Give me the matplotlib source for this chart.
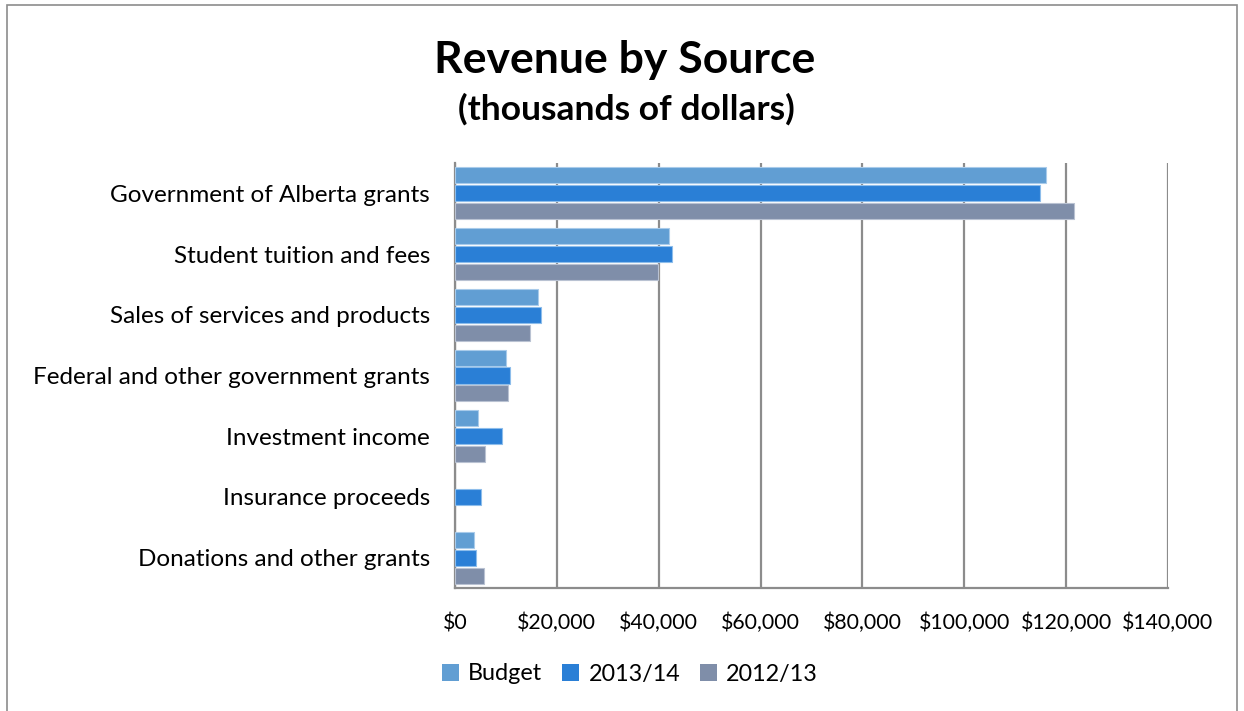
import matplotlib
matplotlib.use("Agg")
import matplotlib.pyplot as plt
from matplotlib.patches import Rectangle
from matplotlib.ticker import FuncFormatter, MultipleLocator
import numpy as np

plt.rcParams['font.family'] = ['Lato', 'DejaVu Sans']

categories = [
    "Government of Alberta grants",
    "Student tuition and fees",
    "Sales of services and products",
    "Federal and other government grants",
    "Investment income",
    "Insurance proceeds",
    "Donations and other grants",
]
budget = [116100, 42100, 16250, 10100, 4500, 0, 3750]
fy_2013_14 = [114800, 42650, 16900, 10800, 9250, 5050, 4100]
fy_2012_13 = [121500, 39900, 14700, 10500, 5900, 0, 5700]
series_names = ["Budget", "2013/14", "2012/13"]
series_colors = ["#619ED3", "#2A7FD6", "#7F8EA9"]
edge_colors = ["#A9CBEA", "#8DBDEB", "#B9C2D2"]

fig = plt.figure(figsize=(12.44, 7.11), dpi=100)
fig.patch.set_facecolor("white")

# outer chart frame
fig.add_artist(Rectangle((7 / 1244, -0.01), 1230 / 1244, 1 - 5 / 711 + 0.01,
                         transform=fig.transFigure, fill=False,
                         edgecolor="#8C8C8C", linewidth=1.2))

ax = fig.add_axes([455 / 1244, 1 - 588 / 711, 713 / 1244, 425 / 711])

n = len(categories)
y = np.arange(n)[::-1]
pitch = 0.295
bar_h = 0.265
for i, (vals, name) in enumerate(zip([budget, fy_2013_14, fy_2012_13], series_names)):
    vals = np.asarray(vals, dtype=float)
    widths = np.where(vals > 0, 0.8, 0.0)
    ax.barh(y + pitch * (1 - i), vals, height=bar_h, color=series_colors[i],
            edgecolor=edge_colors[i], linewidth=widths, label=name, zorder=3)

ax.set_xlim(0, 140000)
ax.set_ylim(-0.5, n - 0.5)
ax.xaxis.set_major_locator(MultipleLocator(20000))
ax.xaxis.set_major_formatter(FuncFormatter(lambda v, p: f"${v:,.0f}"))
ax.set_yticks(y)
ax.set_yticklabels(categories)

ax.grid(axis="x", color="#8C8C8C", linewidth=1.6, zorder=1)
ax.grid(axis="y", visible=False)
for side in ["top", "right"]:
    ax.spines[side].set_visible(False)
ax.spines["left"].set_color("#8C8C8C")
ax.spines["left"].set_linewidth(1.6)
ax.spines["bottom"].set_color("#8C8C8C")
ax.spines["bottom"].set_linewidth(1.6)
ax.tick_params(axis="both", length=0, colors="black")
ax.tick_params(axis="x", pad=18, labelsize=15.3)
ax.tick_params(axis="y", pad=18, labelsize=17.5)

fig.text(625 / 1244, 1 - 60 / 711, "Revenue by Source", ha="center", va="center",
         fontsize=32, fontweight="bold")
fig.text(626 / 1244, 1 - 109 / 711, "(thousands of dollars)", ha="center", va="center",
         fontsize=25.5, fontweight="bold")

leg = fig.legend(loc="center", bbox_to_anchor=(630 / 1244, 1 - 674 / 711), ncol=3,
                 frameon=False, fontsize=16.8, handlelength=0.72, handleheight=0.72,
                 handletextpad=0.4, columnspacing=0.85)
for h in leg.legend_handles:
    h.set_linewidth(0)

fig.savefig("out.png", dpi=100, facecolor="white")
